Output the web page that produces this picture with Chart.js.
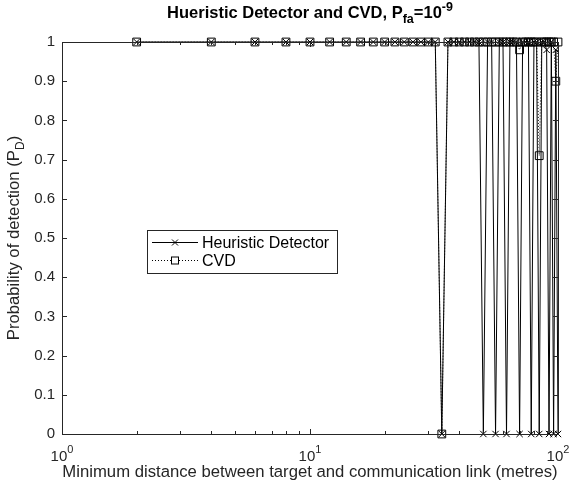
<!DOCTYPE html>
<html>
<head>
<meta charset="utf-8">
<script src="https://cdn.jsdelivr.net/npm/chart.js@4/dist/chart.umd.min.js"></script>
<style>
body{margin:0;background:#fff}
canvas{display:block}
</style>
</head>
<body>
<canvas id="myChart" width="572" height="491"></canvas>
<script>
// minimum distance (metres), even steps
var distances = [2,4,6,8,10,12,14,16,18,20,22,24,26,28,30,32,34,36,38,40,42,44,46,48,50,
                 52,54,56,58,60,62,64,66,68,70,72,74,76,78,80,82,84,86,88,90,92,94,96,98,100];
var heuristicPd = [1,1,1,1,1,1,1,1,1,1,1,1,1,1,1,1,0,1,1,1,1,1,1,1,0,
                   1,1,0,1,1,0,1,1,1,0,1,1,1,0,1,1,0,1,1,0.98,0,1,0,0.98,0];
var cvdPd = [1,1,1,1,1,1,1,1,1,1,1,1,1,1,1,1,0,1,1,1,1,1,1,1,1,
             1,1,1,1,1,1,1,1,1,0.98,1,1,1,1,1,1,0.71,1,1,1,1,1,1,0.9,1];
var xTickValues = [1,10,100];
var xTickExps = ['0','1','2'];
var yTickValues = [0,0.1,0.2,0.3,0.4,0.5,0.6,0.7,0.8,0.9,1];
var yTickLabels = ['0','0.1','0.2','0.3','0.4','0.5','0.6','0.7','0.8','0.9','1'];
var seriesNames = ['Heuristic Detector','CVD'];

var axisColor = '#262626';
var fontName = '"Liberation Sans", Arial, sans-serif';

function toPoints(xs, ys){
    var pts = [];
    for(let i=0;i<xs.length;i++){
        pts.push({x: xs[i], y: ys[i]});
    }
    return pts;
}

// draws the frame, ticks, labels with sub/superscripts and the legend
var matlabLook = {
    id: 'matlabLook',
    afterDraw(chart){
        var ctx = chart.ctx;
        var area = chart.chartArea;
        var xs = chart.scales.x, ys = chart.scales.y;
        ctx.save();
        ctx.strokeStyle = axisColor;
        ctx.lineWidth = 1;
        ctx.strokeRect(Math.round(area.left)+0.5, Math.round(area.top)+0.5,
            Math.round(area.right-area.left), Math.round(area.bottom-area.top));

        // y ticks
        ctx.beginPath();
        yTickValues.forEach(v => {
            var py = Math.round(ys.getPixelForValue(v))+0.5;
            ctx.moveTo(area.left, py); ctx.lineTo(area.left+5, py);
            ctx.moveTo(area.right, py); ctx.lineTo(area.right-5, py);
        });
        // x major + minor ticks
        for(let d=1; d<100; d*=10){
            for(let k=1;k<=10;k++){
                var v = d*k;
                if(v>100) break;
                var px = Math.round(xs.getPixelForValue(v))+0.5;
                var len = (k==1||k==10) ? 5 : 3;
                ctx.moveTo(px, area.bottom); ctx.lineTo(px, area.bottom-len);
                ctx.moveTo(px, area.top); ctx.lineTo(px, area.top+len);
            }
        }
        ctx.stroke();

        ctx.fillStyle = axisColor;
        // y tick labels
        ctx.font = '15px ' + fontName;
        ctx.textAlign = 'right';
        ctx.textBaseline = 'middle';
        yTickValues.forEach((v,i) => {
            ctx.fillText(yTickLabels[i], area.left-7, ys.getPixelForValue(v));
        });
        // x tick labels 10^n
        ctx.textAlign = 'left';
        ctx.textBaseline = 'alphabetic';
        xTickValues.forEach((v,i) => {
            ctx.font = '15px ' + fontName;
            var w1 = ctx.measureText('10').width;
            ctx.font = '11px ' + fontName;
            var w2 = ctx.measureText(xTickExps[i]).width;
            var px = xs.getPixelForValue(v) - (w1+w2)/2;
            ctx.font = '15px ' + fontName;
            ctx.fillText('10', px, 461);
            ctx.font = '11px ' + fontName;
            ctx.fillText(xTickExps[i], px+w1, 453);
        });

        // x axis title
        ctx.font = '16.7px ' + fontName;
        ctx.textAlign = 'center';
        ctx.fillText('Minimum distance between target and communication link (metres)', (area.left+area.right)/2, 477);

        // y axis title with subscript
        ctx.save();
        ctx.translate(19, (area.top+area.bottom)/2);
        ctx.rotate(-Math.PI/2);
        ctx.textAlign = 'left';
        ctx.font = '16.7px ' + fontName;
        var a = 'Probability of detection (P', c = ')';
        var wa = ctx.measureText(a).width, wc = ctx.measureText(c).width;
        ctx.font = '12px ' + fontName;
        var wb = ctx.measureText('D').width;
        var sx = -(wa+wb+wc)/2;
        ctx.font = '16.7px ' + fontName;
        ctx.fillText(a, sx, 0);
        ctx.font = '12px ' + fontName;
        ctx.fillText('D', sx+wa, 5);
        ctx.font = '16.7px ' + fontName;
        ctx.fillText(c, sx+wa+wb, 0);
        ctx.restore();

        // title with sub and superscript
        ctx.fillStyle = '#000';
        ctx.textAlign = 'left';
        var parts = [
            {t:'Hueristic Detector and CVD, P', f:'bold 16.5px ', dy:0},
            {t:'fa', f:'bold 12.5px ', dy:5},
            {t:'=10', f:'bold 16.5px ', dy:0},
            {t:'-9', f:'bold 12.5px ', dy:-7}
        ];
        var total = 0;
        parts.forEach(p => { ctx.font = p.f + fontName; p.w = ctx.measureText(p.t).width; total += p.w; });
        var tx = (area.left+area.right)/2 - total/2;
        parts.forEach(p => {
            ctx.font = p.f + fontName;
            ctx.fillText(p.t, tx, 18+p.dy);
            tx += p.w;
        });

        // legend
        var lx = 147, ly = 230, lw = 190, lh = 43;
        ctx.fillStyle = '#fff';
        ctx.fillRect(lx, ly, lw, lh);
        ctx.strokeStyle = axisColor;
        ctx.strokeRect(lx+0.5, ly+0.5, lw, lh);
        chart.data.datasets.forEach((ds,i) => {
            var ry = Math.round(ly + 12 + i*18) + 0.5;
            ctx.strokeStyle = '#000';
            ctx.setLineDash(ds.borderDash || []);
            ctx.beginPath();
            ctx.moveTo(lx+5, ry); ctx.lineTo(lx+51, ry);
            ctx.stroke();
            ctx.setLineDash([]);
            var mx = lx+28;
            if(ds.pointStyle == 'rect'){
                ctx.fillStyle = '#fff';
                ctx.fillRect(mx-4, ry-4, 8, 8);
                ctx.strokeRect(mx-3.5, ry-3.5, 7, 7);
            }else{
                ctx.beginPath();
                ctx.moveTo(mx-3, ry-3); ctx.lineTo(mx+3, ry+3);
                ctx.moveTo(mx-3, ry+3); ctx.lineTo(mx+3, ry-3);
                ctx.stroke();
            }
            ctx.fillStyle = '#000';
            ctx.font = '16px ' + fontName;
            ctx.textBaseline = 'middle';
            ctx.fillText(seriesNames[i], lx+55, ry+1);
            ctx.textBaseline = 'alphabetic';
        });
        ctx.restore();
    }
};

var ctx = document.getElementById('myChart').getContext('2d');
var myChart = new Chart(ctx, {
    type: 'line',
    data: {
        datasets: [{
                label: seriesNames[0],
                data: toPoints(distances, heuristicPd),
                borderColor: '#000',
                borderWidth: 1,
                pointStyle: 'crossRot',
                pointRadius: 4.5,
                pointBorderColor: '#000',
                pointBorderWidth: 1,
                fill: false,
                tension: 0,
                clip: false
            },
            {
                label: seriesNames[1],
                data: toPoints(distances, cvdPd),
                borderColor: '#000',
                borderWidth: 1,
                borderDash: [1, 2],
                pointStyle: 'rect',
                pointRadius: 5.5,
                pointBorderColor: '#000',
                pointBackgroundColor: 'rgba(0,0,0,0)',
                pointBorderWidth: 1,
                fill: false,
                tension: 0,
                clip: false
            }
        ]
    },
    options: {
        responsive: false,
        animation: false,
        devicePixelRatio: 1,
        layout: { padding: { left: 62, top: 42, right: 14, bottom: 57 } },
        plugins: { legend: { display: false }, tooltip: { enabled: false } },
        scales: {
            x: {
                type: 'logarithmic', min: 1, max: 100,
                grid: { display: false }, border: { display: false },
                ticks: { display: false },
                afterFit: s => { s.height = 0; }
            },
            y: {
                type: 'linear', min: 0, max: 1,
                grid: { display: false }, border: { display: false },
                ticks: { display: false },
                afterFit: s => { s.width = 0; }
            }
        }
    },
    plugins: [matlabLook]
});
</script>
</body>
</html>
